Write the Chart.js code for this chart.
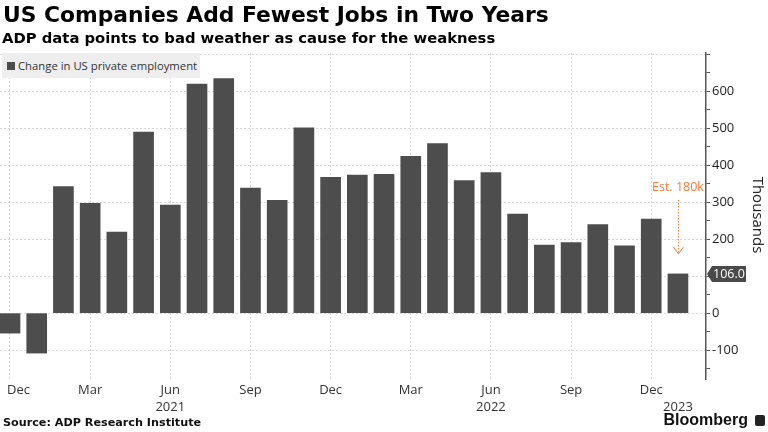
<!DOCTYPE html>
<html>
<head>
<meta charset="utf-8">
<script src="https://cdn.jsdelivr.net/npm/chart.js@4.4.0/dist/chart.umd.min.js"></script>
<style>
  body { margin: 0; width: 768px; height: 432px; overflow: hidden; background: #fff; font-family: 'DejaVu Sans', sans-serif; }
  #wrap { position: relative; width: 768px; height: 432px; }
  #chart { position: absolute; left: 0; top: 0; }
  .title { position: absolute; left: 3px; top: 2px; font-weight: bold; font-size: 21.8px; color: #000; white-space: nowrap; }
  .subtitle { position: absolute; left: 2px; top: 29px; font-weight: bold; font-size: 14.8px; color: #000; white-space: nowrap; }
  .legend { position: absolute; left: 2px; top: 53px; width: 198px; height: 25px; background: #eeeeee; font-family: 'Open Sans', sans-serif; font-size: 11.3px; color: #333; line-height: 25px; white-space: nowrap; }
  .legend i { display: inline-block; width: 8px; height: 8px; background: #4d4d4d; margin: 0 3px 0 5px; }
  .units { position: absolute; left: 720px; top: 206px; width: 80px; text-align: center; transform: rotate(90deg); transform-origin: 40px 9px; font-family: 'Open Sans', sans-serif; font-size: 15px; color: #222; }
  .source { position: absolute; left: 3px; top: 416px; font-weight: bold; font-size: 11.2px; color: #111; }
  .brand { position: absolute; right: 20px; top: 411px; font-family: 'Liberation Sans', sans-serif; font-weight: bold; font-size: 16px; color: #111; }
  .brand-icon { position: absolute; left: 755px; top: 415px; width: 10px; height: 11px; background: #222; border-radius: 2px; }
</style>
</head>
<body>
<div id="wrap">
  <canvas id="chart" width="768" height="432"></canvas>
  <div class="title">US Companies Add Fewest Jobs in Two Years</div>
  <div class="subtitle">ADP data points to bad weather as cause for the weakness</div>
  <div class="legend"><i></i>Change in US private employment</div>
  <div class="units">Thousands</div>
  <div class="source">Source: ADP Research Institute</div>
  <div class="brand">Bloomberg</div>
  <div class="brand-icon"></div>
</div>
<script>
// monthly change, Dec 2020 .. Jan 2023 (thousands)
var months = ['Dec 2020', 'Jan 2021', 'Feb 2021', 'Mar 2021', 'Apr 2021', 'May 2021', 'Jun 2021',
  'Jul 2021', 'Aug 2021', 'Sep 2021', 'Oct 2021', 'Nov 2021', 'Dec 2021', 'Jan 2022', 'Feb 2022',
  'Mar 2022', 'Apr 2022', 'May 2022', 'Jun 2022', 'Jul 2022', 'Aug 2022', 'Sep 2022', 'Oct 2022',
  'Nov 2022', 'Dec 2022', 'Jan 2023'];
var jobs = [-54, -108, 342, 297, 219, 489, 292, 619, 634, 338, 305, 501, 367, 373, 375,
  424, 458, 358, 380, 268, 184, 191, 239, 182, 254, 106];

var tickIdx = [0, 3, 6, 9, 12, 15, 18, 21, 24];
var tickLabels = ['Dec', 'Mar', 'Jun', 'Sep', 'Dec', 'Mar', 'Jun', 'Sep', 'Dec'];
var yearIdx = [6, 18, 25];
var yearLabels = ['2021', '2022', '2023'];

var estimate = 180;
var lastValue = jobs[jobs.length - 1];

var points = jobs.map(function(v, i) { return { x: i, y: v }; });

var extras = {
  id: 'extras',
  afterDraw: function(chart) {
    var ctx = chart.ctx;
    var xs = chart.scales.x, ys = chart.scales.y;
    ctx.save();
    ctx.font = '13px "Open Sans", sans-serif';
    ctx.fillStyle = '#333';
    ctx.textBaseline = 'middle';
    tickIdx.forEach(function(idx, i) {
      var px = xs.getPixelForValue(idx);
      if (i === 0) { ctx.textAlign = 'left'; px = px - 3; } else { ctx.textAlign = 'center'; }
      ctx.fillText(tickLabels[i], px, 390);
    });
    ctx.textAlign = 'center';
    yearIdx.forEach(function(idx, i) {
      ctx.fillText(yearLabels[i], xs.getPixelForValue(idx), 407);
    });

    // estimate annotation
    var ex = xs.getPixelForValue(jobs.length - 1);
    ctx.fillStyle = '#f47b3a';
    ctx.font = '12.5px "Open Sans", sans-serif';
    ctx.fillText('Est. ' + estimate + 'k', ex, 187);
    ctx.strokeStyle = '#f47b3a';
    ctx.lineWidth = 1;
    ctx.setLineDash([1.5, 1.5]);
    ctx.beginPath();
    ctx.moveTo(ex + 0.5, 200);
    ctx.lineTo(ex + 0.5, ys.getPixelForValue(160));
    ctx.stroke();
    ctx.setLineDash([]);
    var tip = ys.getPixelForValue(160);
    ctx.beginPath();
    ctx.moveTo(ex - 4.5, tip - 7);
    ctx.lineTo(ex + 0.5, tip);
    ctx.lineTo(ex + 5.5, tip - 7);
    ctx.stroke();

    // last value tag
    var vy = ys.getPixelForValue(lastValue);
    var ax = chart.chartArea.right;
    ctx.fillStyle = '#4a4a4a';
    ctx.beginPath();
    ctx.moveTo(ax + 1, vy);
    ctx.lineTo(ax + 6, vy - 8);
    ctx.lineTo(ax + 40, vy - 8);
    ctx.lineTo(ax + 40, vy + 8);
    ctx.lineTo(ax + 6, vy + 8);
    ctx.closePath();
    ctx.fill();
    ctx.fillStyle = '#fff';
    ctx.font = '12.5px "Open Sans", sans-serif';
    ctx.textAlign = 'left';
    ctx.fillText(lastValue.toFixed(1), ax + 7, vy + 0.5);

    // small bars in the brand icon
    ctx.fillStyle = '#fff';
    ctx.fillRect(757, 421, 1, 3);
    ctx.fillRect(759, 419, 1, 5);
    ctx.fillRect(761, 420, 1, 4);
    ctx.restore();
  }
};

new Chart(document.getElementById('chart'), {
  type: 'bar',
  data: {
    datasets: [{
      label: 'Change in US private employment',
      data: points,
      backgroundColor: '#4d4d4d',
      barThickness: 20
    }]
  },
  options: {
    responsive: false,
    animation: false,
    layout: { padding: { top: 53, bottom: 53, left: 0, right: 0 } },
    plugins: { legend: { display: false }, tooltip: { enabled: false } },
    scales: {
      x: {
        type: 'linear',
        offset: false,
        min: -0.374,
        max: 26.05,
        afterBuildTicks: function(s) { s.ticks = tickIdx.map(function(v) { return { value: v }; }); },
        afterFit: function(s) { s.height = 0; },
        ticks: { display: false },
        border: { display: false, dash: [2, 2] },
        grid: { color: '#d6d6d6', drawTicks: false, offset: false }
      },
      y: {
        position: 'right',
        min: -178,
        max: 703,
        afterBuildTicks: function(s) {
          var t = [];
          for (var v = -150; v <= 700; v += 50) t.push({ value: v });
          s.ticks = t;
        },
        afterFit: function(s) { s.width = 62; },
        ticks: {
          padding: 2,
          color: '#222',
          font: { family: 'Open Sans', size: 13 },
          callback: function(v) { return (v % 100 === 0 && v !== 700) ? v : ''; }
        },
        border: { display: true, color: '#555', width: 1.5, dash: [2, 2] },
        grid: {
          color: function(c) { return c.tick && c.tick.value % 100 === 0 ? '#d6d6d6' : 'rgba(0,0,0,0)'; },
          tickColor: '#555',
          tickLength: 4,
          tickBorderDash: [],
          tickWidth: 1
        }
      }
    }
  },
  plugins: [extras]
});
</script>
</body>
</html>
